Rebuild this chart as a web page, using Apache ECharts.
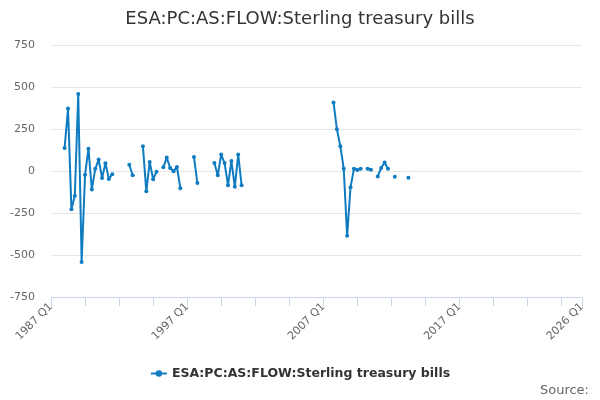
<!DOCTYPE html>
<html>
<head>
<meta charset="utf-8">
<script src="https://cdn.jsdelivr.net/npm/echarts@6/dist/echarts.min.js"></script>
<style>
  html, body { margin: 0; padding: 0; background: #fff; }
  #chart { width: 600px; height: 400px; }
</style>
</head>
<body>
<div id="chart"></div>
<script>
const seriesName = "ESA:PC:AS:FLOW:Sterling treasury bills";

// quarters 1987 Q1 .. 2026 Q1
const years = [];
for (let y = 1987; y <= 2026; y++) years.push(y);
const quarters = [];
years.forEach((y) => {
  for (let q = 1; q <= 4; q++) {
    if (y === 2026 && q > 1) break;
    quarters.push(y + " Q" + q);
  }
});

// values from 1987 Q1 onward, null where no data
const flowValues = [
  null, null, null, null, 137, 372, -227, -147, 458, -542,
  -22, 132, -110, 13, 68, -41, 46, -47, -19, null,
  null, null, null, 37, -25, null, null, 148, -121, 54,
  -49, -4, null, 22, 80, 18, -2, 24, -102, null,
  null, null, 83, -71, null, null, null, null, 47, -26,
  98, 47, -85, 60, -94, 98, -85, null, null, null,
  null, null, null, null, null, null, null, null, null, null,
  null, null, null, null, null, null, null, null, null, null,
  null, null, null, 408, 248, 148, 14, -386, -96, 13,
  6, 13, null, 13, 7, null, -32, 18, 51, 13,
  null, -34, null, null, null, -40,
];

const seriesData = quarters.map((q, i) => (i < flowValues.length ? flowValues[i] : null));
const lastIdx = quarters.length - 1;

const chart = echarts.init(document.getElementById("chart"));
chart.setOption({
  animation: false,
  textStyle: { fontFamily: "DejaVu Sans" },
  title: {
    text: "ESA:PC:AS:FLOW:Sterling treasury bills",
    left: "center",
    top: 5,
    textStyle: { fontSize: 18, fontWeight: "normal", color: "#333" },
  },
  grid: { left: 51, right: 18, top: 45, bottom: 103 },
  legend: {
    bottom: 15,
    left: "center",
    itemWidth: 16,
    itemHeight: 8,
    textStyle: { fontSize: 12.5, fontWeight: "bold", color: "#333" },
    data: [seriesName],
  },
  graphic: [
    {
      type: "text",
      right: 11,
      bottom: 3,
      style: { text: "Source:", fontSize: 13, fill: "#666", fontFamily: "DejaVu Sans" },
    },
  ],
  xAxis: {
    type: "category",
    data: quarters,
    boundaryGap: false,
    axisLine: { onZero: false, lineStyle: { color: "#ccd6eb" } },
    axisTick: {
      length: 9,
      lineStyle: { color: "#ccd6eb" },
      interval: (i) => i % 10 === 0 || i === lastIdx,
    },
    axisLabel: {
      rotate: 45,
      color: "#666",
      fontSize: 11,
      margin: 8,
      interval: (i) => i % 40 === 0 || i === lastIdx,
    },
  },
  yAxis: {
    type: "value",
    min: -750,
    max: 750,
    interval: 250,
    axisLine: { show: false },
    axisTick: { show: false },
    axisLabel: { color: "#666", fontSize: 11, margin: 16 },
    splitLine: { lineStyle: { color: "#e6e6e6" } },
  },
  series: [
    {
      name: seriesName,
      type: "line",
      data: seriesData,
      connectNulls: false,
      symbol: "circle",
      symbolSize: 4,
      showSymbol: true,
      showAllSymbol: true,
      color: "#0f7cc1",
      lineStyle: { width: 2 },
    },
  ],
});
</script>
</body>
</html>
